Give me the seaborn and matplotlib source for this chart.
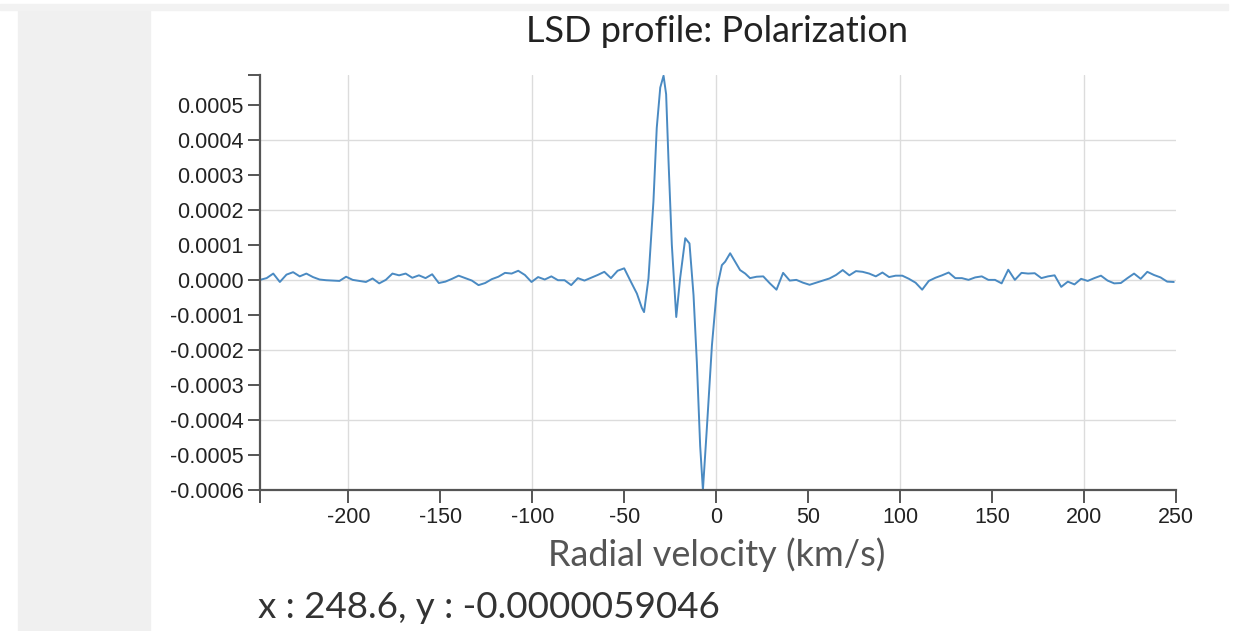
import numpy as np
import pandas as pd
import matplotlib
matplotlib.use("Agg")
import matplotlib.pyplot as plt
import seaborn as sns
from matplotlib.patches import Rectangle
from matplotlib.ticker import FuncFormatter

# LSD Stokes V profile (units of 1e-5)
# continuum noise left of the line, regular 3.6 km/s bins
left_start = -248.0
left_step = 3.6
left_pol = [
    0.0, 0.5, 1.8, -0.6, 1.5, 2.2, 1.0, 1.8, 0.8, 0.1,
    -0.1, -0.2, -0.3, 0.9, 0.0, -0.3, -0.6, 0.4, -1.0, 0.0,
    1.8, 1.3, 1.8, 0.6, 1.3, 0.5, 1.6, -0.9, -0.5, 0.3,
    1.2, 0.5, -0.2, -1.5, -0.9, 0.2, 0.9, 2.0, 1.8, 2.6,
    1.4, -0.6, 0.8, 0.1, 1.0, -0.1, -0.1, -1.5, 0.5, -0.2,
    0.6, 1.4, 2.3, 0.5, 2.6, 3.3,
]

# the Zeeman signature itself, read point by point
core_velocity = [
    -46.4, -43.1, -40.4, -39.2, -36.8, -34.1, -32.3, -30.4, -28.6, -27.2,
    -25.9, -24.1, -21.7, -19.6, -16.8, -14.5, -12.3, -10.5, -8.7, -7.2,
    -5.1, -2.3, 0.4, 3.1, 4.9, 7.6, 10.3, 13.0, 15.8,
]
core_pol = [
    -0.5, -3.9, -8.0, -9.2, 0.4, 22.4, 43.4, 54.9, 58.3, 53.0,
    33.9, 10.0, -10.6, 0.4, 11.9, 10.4, -4.4, -23.5, -47.4, -60.0,
    -42.7, -18.7, -2.5, 4.2, 5.2, 7.6, 5.2, 2.8, 1.8,
]

# continuum noise right of the line
right_start = 18.4
right_step = 3.6
right_pol = [
    0.5, 0.9, 1.0, -1.0, -2.8, 2.0,
    -0.2, 0.0, -0.8, -1.4, -0.8, -0.2, 0.4, 1.4, 2.8, 1.3,
    2.5, 2.3, 1.8, 1.0, 2.1, 0.8, 1.2, 1.2, 0.3, -0.8,
    -2.8, -0.3, 0.6, 1.3, 2.1, 0.5, 0.5, 0.0, 0.7, 1.0,
    0.0, 0.0, -1.0, 2.9, 0.0, 2.0, 1.8, 1.9, 0.5, 1.0,
    1.3, -2.0, -0.5, -1.3, 0.3, -0.3, 0.5, 1.2, -0.2, -1.0,
    -0.9, 0.5, 1.8, 0.3, 2.3, 1.4, 0.7, -0.5, -0.6,
]

x_ticks = [-200, -150, -100, -50, 0, 50, 100, 150, 200, 250]
y_ticks = [-0.0006, -0.0005, -0.0004, -0.0003, -0.0002, -0.0001,
           0.0, 0.0001, 0.0002, 0.0003, 0.0004, 0.0005]
x_grid = [-200, -100, 0, 100, 200]
y_grid = [-0.0004, -0.0002, 0.0, 0.0002, 0.0004]
x_limits = (-248.0, 250.0)
y_limits = (-0.0006, 0.000585)

title = "LSD profile: Polarization"
x_label = "Radial velocity (km/s)"
cursor_text = "x : 248.6, y : -0.0000059046"


def build_profile():
    left_v = left_start + left_step * np.arange(len(left_pol))
    right_v = right_start + right_step * np.arange(len(right_pol))
    vel = np.concatenate([left_v, core_velocity, right_v])
    pol = np.concatenate([left_pol, core_pol, right_pol]) * 1e-5
    return pd.DataFrame({"velocity": np.round(vel, 1),
                         "polarization": pol})


def main():
    sns.set_theme(style="white")
    plt.rcParams["font.family"] = ["Liberation Sans", "DejaVu Sans"]
    plt.rcParams["axes.unicode_minus"] = False

    df = build_profile()

    W, H = 1233, 631
    fig = plt.figure(figsize=(W / 100, H / 100), dpi=100)

    # page chrome around the chart
    fig.patches.append(Rectangle((18 / W, 0), 132 / W, 1 - 9 / H,
                                 transform=fig.transFigure,
                                 color="#f0f0f0", zorder=0))
    fig.patches.append(Rectangle((0, 1 - 10 / H), 1228 / W, 6 / H,
                                 transform=fig.transFigure,
                                 color="#f2f2f2", zorder=0))

    ax = fig.add_axes([260 / W, 1 - 490 / H, 916 / W, 415 / H])
    ax.patch.set_alpha(0)

    for v in x_grid:
        ax.axvline(v, color="#dcdcdc", lw=1.0, zorder=0)
    for h in y_grid:
        ax.axhline(h, color="#dcdcdc", lw=1.0, zorder=0)

    sns.lineplot(data=df, x="velocity", y="polarization", ax=ax,
                 color="#4a8ac2", linewidth=1.4, estimator=None, sort=False)

    ax.set_xlim(*x_limits)
    ax.set_ylim(*y_limits)

    # d3 style axes: outer ticks at both ends
    ax.set_xticks([x_limits[0]] + x_ticks)
    ax.set_xticklabels([""] + [str(t) for t in x_ticks])
    ax.set_yticks(y_ticks + [y_limits[1]])
    fmt = FuncFormatter(lambda v, p: "" if v > 0.00055 else
                        f"{round(v, 4) + 0.0:.4f}")
    ax.yaxis.set_major_formatter(fmt)

    for side in ["top", "right"]:
        ax.spines[side].set_visible(False)
    for side in ["left", "bottom"]:
        ax.spines[side].set_color("#555555")
        ax.spines[side].set_linewidth(1.6)
    ax.tick_params(axis="both", direction="out", length=9, width=1.4,
                   color="#555555", labelsize=15.5, labelcolor="#222222",
                   pad=3, left=True, bottom=True)
    ax.set_xlabel("")
    ax.set_ylabel("")

    fig.text(717 / W, 1 - 31 / H, title, ha="center", va="center",
             fontsize=26, color="#222222", family=["Lato", "DejaVu Sans"])
    fig.text(717 / W, 1 - 555 / H, x_label, ha="center", va="center",
             fontsize=26, color="#555555", family=["Lato", "DejaVu Sans"])
    fig.text(258 / W, 1 - 608 / H, cursor_text, ha="left", va="center",
             fontsize=26.5, color="#333333", family=["Lato", "DejaVu Sans"])

    fig.savefig("out.png", dpi=100)


if __name__ == "__main__":
    main()
